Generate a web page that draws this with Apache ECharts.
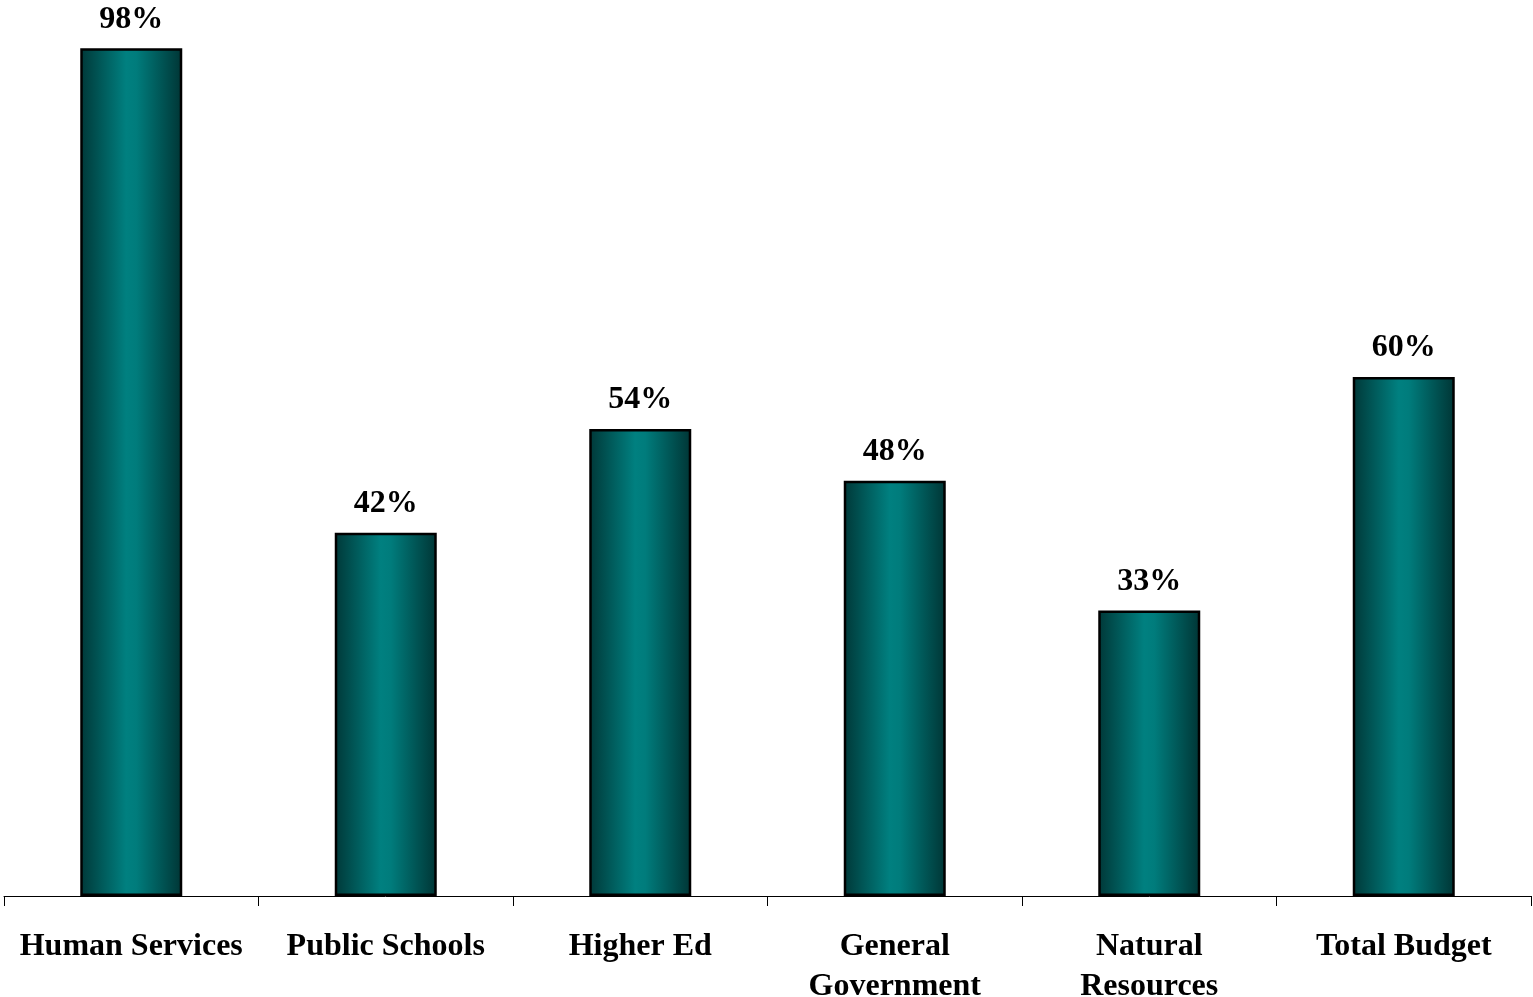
<!DOCTYPE html>
<html>
<head>
<meta charset="utf-8">
<script src="https://cdn.jsdelivr.net/npm/echarts@6/dist/echarts.min.js"></script>
<style>
  html, body { margin: 0; padding: 0; background: #fff; }
  #chart { width: 1533px; height: 997px; }
</style>
</head>
<body>
<div id="chart"></div>
<script>
// Budget areas and their percentage shares
const categories = ['Human Services', 'Public Schools', 'Higher Ed', 'General\nGovernment', 'Natural\nResources', 'Total Budget'];
const shares = [98, 42, 54, 48, 33, 60];

const serif = '"Liberation Serif", "Times New Roman", serif';

// horizontal shading: dark edges, teal centre
const barFill = new echarts.graphic.LinearGradient(0, 0, 1, 0, [
  { offset: 0, color: '#003838' },
  { offset: 0.45, color: '#008080' },
  { offset: 0.55, color: '#007c7c' },
  { offset: 1, color: '#003535' }
]);

const chart = echarts.init(document.getElementById('chart'));
chart.setOption({
  animation: false,
  grid: { left: 4, right: 2, top: 31, bottom: 101, containLabel: false, outerBoundsMode: 'none' },
  xAxis: {
    type: 'category',
    data: categories,
    axisLine: { lineStyle: { color: '#000', width: 1 } },
    axisTick: { show: true, length: 10, lineStyle: { color: '#000' } },
    axisLabel: {
      interval: 0,
      margin: 31,
      color: '#000',
      fontFamily: serif,
      fontWeight: 'bold',
      fontSize: 32,
      lineHeight: 40
    }
  },
  yAxis: {
    type: 'value',
    min: 0,
    max: 100,
    show: false,
    splitLine: { show: false }
  },
  series: [{
    type: 'bar',
    data: shares,
    barWidth: 102,
    itemStyle: {
      color: barFill,
      borderColor: '#000',
      borderWidth: 2.5
    },
    label: {
      show: true,
      position: 'top',
      distance: 13,
      formatter: '{c}%',
      color: '#000',
      fontFamily: serif,
      fontWeight: 'bold',
      fontSize: 32
    }
  }]
});
</script>
</body>
</html>
